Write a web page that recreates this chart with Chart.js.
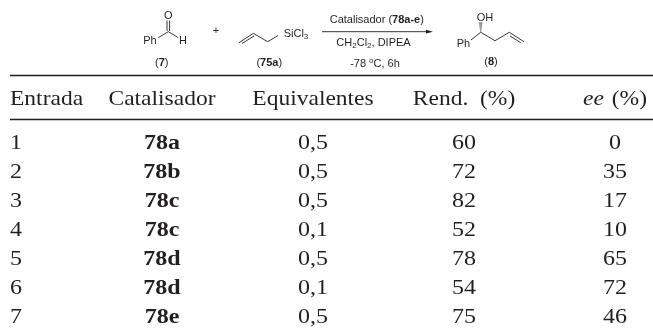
<!DOCTYPE html>
<html><head><meta charset="utf-8">
<style>html,body{margin:0;padding:0;background:#fff}#w{width:653px;height:331px;position:relative}</style>
<script src="https://cdn.jsdelivr.net/npm/chart.js@4"></script>
</head><body><div id="w"><canvas id="c" width="653" height="331"></canvas></div>
<script>
const columns = ['Entrada','Catalisador','Equivalentes','Rend. (%)','ee (%)'];
const entries = ['1','2','3','4','5','6','7'];
const catalysts = ['78a','78b','78c','78c','78d','78d','78e'];
const equivalents = ['0,5','0,5','0,5','0,1','0,5','0,1','0,5'];
const yields = [60,72,82,52,78,54,75];
const ee = [0,35,17,10,65,72,46];

const INK = '#231f20';
const SERIF = '"Liberation Serif","Times New Roman",serif';
const SANS = '"Liberation Sans",Arial,sans-serif';
const SX = 1, SY = 0.9; // reference text is slightly flattened

const rowData = a => a.map((v,i)=>({x:0,y:i+1,label:String(v)}));
function colData(col,a){return a.map((v,i)=>({x:col,y:i+1,label:String(v)}));}

function txt(ctx,s,x,y,font,align,sy){
  ctx.save();ctx.translate(x,y);ctx.scale(1,sy||1);
  ctx.font=font;ctx.textAlign=align||'center';ctx.textBaseline='alphabetic';ctx.fillStyle=INK;
  ctx.fillText(s,0,0);ctx.restore();
}
function poly(ctx,pts,w){
  ctx.beginPath();pts.forEach((p,i)=>i?ctx.lineTo(p[0],p[1]):ctx.moveTo(p[0],p[1]));
  ctx.lineWidth=w||0.9;ctx.strokeStyle=INK;ctx.stroke();
}
// sequence of runs: [text, fontStyle, dy, size]
function runs(ctx,parts,cx,y,size){
  ctx.save();
  const f=p=>`${p[1]||''} ${p[3]||size}px ${SANS}`;
  let tot=0;parts.forEach(p=>{ctx.font=f(p);tot+=ctx.measureText(p[0]).width;});
  let x=cx-tot/2;ctx.textAlign='left';ctx.textBaseline='alphabetic';ctx.fillStyle=INK;
  parts.forEach(p=>{ctx.font=f(p);ctx.fillText(p[0],x,y+(p[2]||0));x+=ctx.measureText(p[0]).width;});
  ctx.restore();
}

const tablePlugin = {
  id:'tableText',
  afterDatasetsDraw(chart){
    const ctx=chart.ctx, xs=chart.scales.x, ys=chart.scales.y;
    // rules
    poly(ctx,[[10,75.5],[653,75.5]],1.3);
    poly(ctx,[[10,119.5],[653,119.5]],1.3);
    // header
    const hy=ys.getPixelForValue(-0.52)+7;
    const hf=`23.5px ${SERIF}`;
    txt(ctx,columns[0],10,hy,hf,'left',SY);
    txt(ctx,columns[1],xs.getPixelForValue(1),hy,hf,'center',SY);
    txt(ctx,columns[2],xs.getPixelForValue(2),hy,hf,'center',SY);
    txt(ctx,'Rend.  (%)',xs.getPixelForValue(3),hy,hf,'center',SY);
    txt(ctx,'ee',583,hy,`italic 23.5px ${SERIF}`,'left',SY);
    txt(ctx,'(%)',647,hy,hf,'right',SY);
    // body cells, placed by the library's own point elements
    chart.data.datasets.forEach((ds,di)=>{
      chart.getDatasetMeta(di).data.forEach((el,i)=>{
        const font=(di===1?'bold ':'')+`24px ${SERIF}`;
        const lx=di===0?10:el.x;
        txt(ctx,ds.data[i].label,lx,el.y+7,font,di===0?'left':'center',SY);
      });
    });
    // reaction scheme
    const s=11;
    txt(ctx,'O',168.3,19,`${s}px ${SANS}`);
    txt(ctx,'Ph',150,44,`${s}px ${SANS}`);
    txt(ctx,'H',183,44,`${s}px ${SANS}`);
    poly(ctx,[[167,20.5],[167,31]]);poly(ctx,[[169.6,20.5],[169.6,31]]);
    poly(ctx,[[158.3,37.7],[168.3,31.7],[178,37.5]]);
    txt(ctx,'+',216,34,`${s}px ${SANS}`);
    poly(ctx,[[239,42.7],[253.3,33.3],[267.7,41.7],[278,35.5]]);
    poly(ctx,[[242,43.5],[254,36]]);
    runs(ctx,[['SiCl'],['3','',2,8]],296,37,s);
    runs(ctx,[['('],['7','bold'],[')']],161.7,65.5,s);
    runs(ctx,[['('],['75a','bold'],[')']],269.3,65.5,s);
    runs(ctx,[['Catalisador ('],['78a-e','bold'],[')']],376.8,23,s);
    poly(ctx,[[322,31.7],[428,31.7]]);
    ctx.beginPath();ctx.moveTo(433,31.7);ctx.lineTo(426,29.8);ctx.lineTo(426,33.6);ctx.closePath();ctx.fillStyle=INK;ctx.fill();
    runs(ctx,[['CH'],['2','',2,8],['Cl'],['2','',2,8],[', DIPEA']],373.5,46,s);
    runs(ctx,[['-78 '],['o','',-4,8],['C, 6h']],375,67,s);
    txt(ctx,'OH',485,21,`${s}px ${SANS}`);
    txt(ctx,'Ph',463.5,47,`${s}px ${SANS}`);
    poly(ctx,[[471,40],[480.7,32.3],[495,40.7],[509.3,32.3],[524,41.7]]);
    poly(ctx,[[510,36],[520.7,42.7]]);
    for(let k=0;k<5;k++){const y=23+k*2;const hw=0.5+k*0.0;const w=1.8-k*0.3;poly(ctx,[[480.7-w,y],[480.7+w,y]],0.9);}
    runs(ctx,[['('],['8','bold'],[')']],491,65,s);
  }
};

new Chart(document.getElementById('c'),{
  type:'scatter',
  data:{datasets:[
    {label:columns[0],data:colData(0,entries),pointRadius:0},
    {label:columns[1],data:colData(1,catalysts),pointRadius:0},
    {label:columns[2],data:colData(2,equivalents),pointRadius:0},
    {label:columns[3],data:colData(3,yields),pointRadius:0},
    {label:columns[4],data:colData(4,ee),pointRadius:0}
  ]},
  options:{
    responsive:false,animation:false,
    layout:{padding:0},
    plugins:{legend:{display:false},tooltip:{enabled:false}},
    scales:{
      x:{type:'linear',display:false,min:-11/151,max:-11/151+653/151},
      y:{type:'linear',display:false,reverse:true,min:1-142/29,max:1-142/29+331/29}
    }
  },
  plugins:[tablePlugin]
});
</script></body></html>
